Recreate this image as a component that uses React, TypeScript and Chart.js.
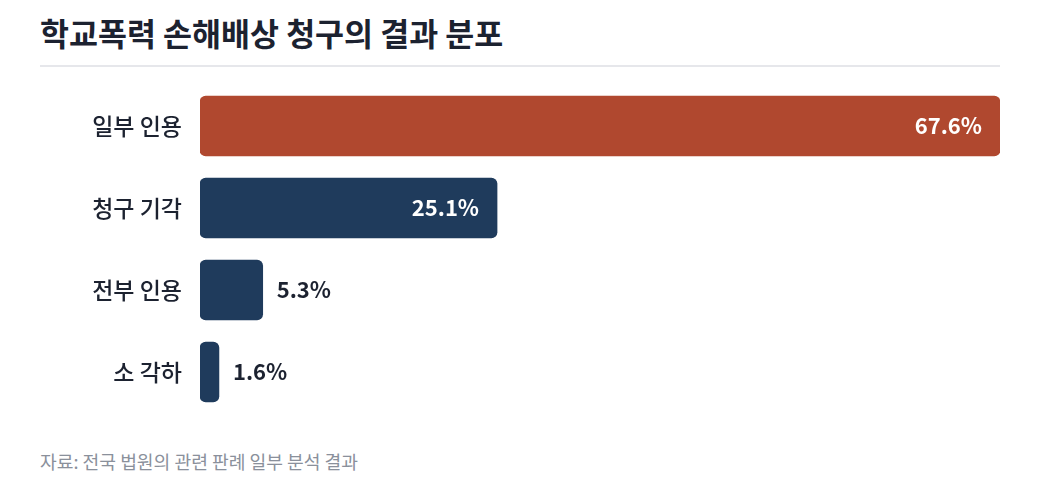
import { useEffect, useRef } from "react";
import { Chart, registerables } from "chart.js";
import type { ChartConfiguration, Plugin } from "chart.js";

Chart.register(...registerables);

const categories = ["일부 인용", "청구 기각", "전부 인용", "소 각하"];
const shares = [67.6, 25.1, 5.3, 1.6];
const barColors = ["#b0482f", "#1f3b5c", "#1f3b5c", "#1f3b5c"];

const FONT = '"Noto Sans CJK KR", "Noto Sans", sans-serif';
const INK = "#1c2230";

// value labels: inside the bar when it is long enough, else just after it
const valueLabels: Plugin<"bar"> = {
  id: "valueLabels",
  afterDatasetsDraw(chart) {
    const { ctx } = chart;
    const meta = chart.getDatasetMeta(0);
    ctx.save();
    ctx.font = `700 22px ${FONT}`;
    ctx.textBaseline = "middle";
    meta.data.forEach((bar, i) => {
      const v = shares[i];
      const text = `${v.toFixed(1)}%`;
      const { x, y } = bar as unknown as { x: number; y: number };
      if (v > 15) {
        ctx.fillStyle = "#ffffff";
        ctx.textAlign = "right";
        ctx.fillText(text, x - 18, y);
      } else {
        ctx.fillStyle = INK;
        ctx.textAlign = "left";
        ctx.fillText(text, x + 14, y);
      }
    });
    ctx.restore();
  },
};

function ShareChart() {
  const canvasRef = useRef<HTMLCanvasElement>(null);
  const chartRef = useRef<Chart | null>(null);

  useEffect(() => {
    if (!canvasRef.current) return;
    if (chartRef.current) chartRef.current.destroy();

    const config: ChartConfiguration<"bar"> = {
      type: "bar",
      data: {
        labels: categories,
        datasets: [
          {
            data: shares,
            backgroundColor: barColors,
            borderRadius: 6,
            borderSkipped: false,
            barThickness: 60,
          },
        ],
      },
      options: {
        indexAxis: "y",
        responsive: true,
        maintainAspectRatio: false,
        animation: false,
        layout: { padding: 0 },
        scales: {
          x: { display: false, min: 0, max: 67.6 },
          y: {
            grid: { display: false, drawTicks: false },
            border: { display: false },
            ticks: {
              color: INK,
              padding: 18,
              font: { family: FONT, size: 23, weight: 500 },
            },
            afterFit: (scale) => {
              scale.width = 160;
              scale.paddingTop = 0;
              scale.paddingBottom = 0;
            },
          },
        },
        plugins: {
          legend: { display: false },
          tooltip: { enabled: false },
        },
      },
      plugins: [valueLabels],
    };

    chartRef.current = new Chart(canvasRef.current, config);
    return () => chartRef.current?.destroy();
  }, []);

  return <canvas ref={canvasRef} />;
}

export default function App() {
  return (
    <div style={{ position: "relative", width: 1024, height: 479, fontFamily: FONT }}>
      <div
        style={{
          position: "absolute",
          left: 32,
          top: 8,
          fontSize: 31.5,
          lineHeight: "32px",
          fontWeight: 700,
          color: INK,
        }}
      >
        학교폭력 손해배상 청구의 결과 분포
      </div>
      <div
        style={{
          position: "absolute",
          left: 32,
          top: 57,
          width: 960,
          height: 2,
          background: "#e6e7eb",
        }}
      />
      <div style={{ position: "absolute", left: 32, top: 77, width: 960, height: 328 }}>
        <ShareChart />
      </div>
      <div
        style={{
          position: "absolute",
          left: 32,
          top: 443,
          fontSize: 18.2,
          lineHeight: "20px",
          color: "#8a909b",
        }}
      >
        자료: 전국 법원의 관련 판례 일부 분석 결과
      </div>
    </div>
  );
}
